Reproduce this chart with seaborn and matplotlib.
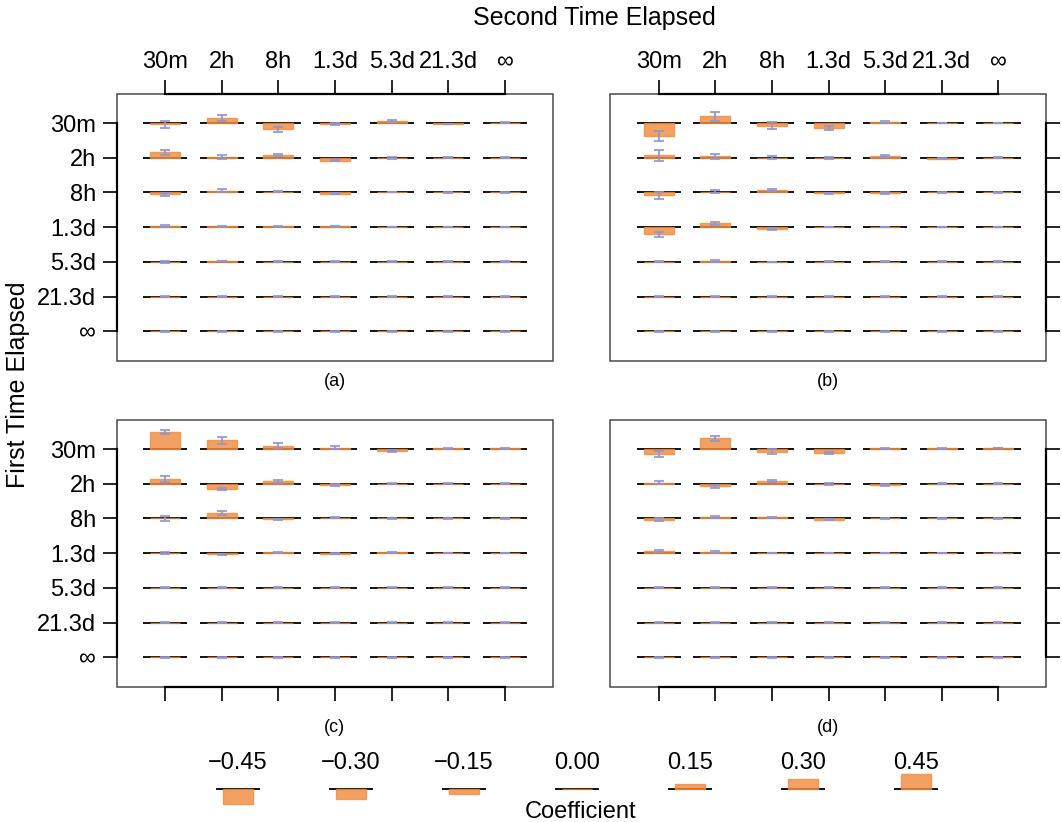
import matplotlib
matplotlib.use("Agg")
import matplotlib.pyplot as plt
import pandas as pd
import seaborn as sns
from matplotlib.patches import Rectangle

# categories (rows = first time elapsed, columns = second time elapsed)
times = ["30m", "2h", "8h", "1.3d", "5.3d", "21.3d", "∞"]
panels = ["(a)", "(b)", "(c)", "(d)"]

zero_row = [0.0, 0.0, 0.0, 0.0, 0.0, 0.0, 0.0]
small_err = [0.01, 0.01, 0.01, 0.01, 0.01, 0.01, 0.01]

coef_a = [
    [-0.04, 0.15, -0.19, -0.03, 0.06, -0.03, 0.01],
    [0.16, 0.03, 0.08, -0.09, -0.01, 0.0, 0.0],
    [-0.06, 0.05, 0.02, -0.04, 0.01, 0.0, 0.0],
    [0.02, 0.02, 0.02, 0.02, 0.0, 0.0, 0.0],
    [-0.01, 0.02, 0.0, 0.0, 0.0, 0.0, 0.0],
    zero_row,
    zero_row,
]
err_a = [
    [0.11, 0.10, 0.07, 0.03, 0.02, 0.01, 0.01],
    [0.08, 0.06, 0.04, 0.02, 0.02, 0.01, 0.01],
    [0.05, 0.04, 0.02, 0.02, 0.01, 0.01, 0.01],
    [0.03, 0.02, 0.02, 0.01, 0.01, 0.01, 0.01],
    [0.02, 0.01, 0.01, 0.01, 0.01, 0.01, 0.01],
    small_err,
    small_err,
]

coef_b = [
    [-0.39, 0.20, -0.08, -0.15, 0.02, 0.0, 0.0],
    [0.07, 0.04, 0.0, 0.0, 0.06, -0.03, 0.0],
    [-0.09, 0.02, 0.07, -0.03, -0.02, 0.0, 0.0],
    [-0.22, 0.11, -0.06, 0.0, 0.0, 0.0, 0.0],
    [0.0, 0.02, -0.01, 0.0, 0.0, 0.0, 0.0],
    zero_row,
    zero_row,
]
err_b = [
    [0.155, 0.145, 0.10, 0.065, 0.03, 0.01, 0.01],
    [0.155, 0.08, 0.04, 0.03, 0.03, 0.02, 0.01],
    [0.10, 0.05, 0.03, 0.02, 0.02, 0.01, 0.01],
    [0.07, 0.04, 0.03, 0.01, 0.01, 0.01, 0.01],
    [0.02, 0.02, 0.01, 0.01, 0.01, 0.01, 0.01],
    small_err,
    small_err,
]

coef_c = [
    [0.51, 0.27, 0.10, 0.04, -0.05, 0.02, 0.02],
    [0.15, -0.16, 0.07, -0.04, 0.0, 0.0, 0.0],
    [0.0, 0.16, -0.03, 0.02, 0.0, 0.0, 0.0],
    [0.0, -0.04, 0.02, -0.02, 0.02, 0.0, 0.0],
    zero_row,
    zero_row,
    zero_row,
]
err_c = [
    [0.055, 0.105, 0.08, 0.04, 0.03, 0.01, 0.01],
    [0.085, 0.03, 0.04, 0.02, 0.02, 0.01, 0.01],
    [0.085, 0.055, 0.02, 0.02, 0.01, 0.01, 0.01],
    [0.03, 0.02, 0.02, 0.01, 0.01, 0.01, 0.01],
    small_err,
    small_err,
    small_err,
]

coef_d = [
    [-0.15, 0.32, -0.08, -0.11, 0.02, 0.02, 0.03],
    [0.03, -0.08, 0.08, 0.0, -0.04, 0.0, 0.0],
    [-0.04, 0.05, 0.03, -0.04, 0.0, 0.0, 0.0],
    [0.05, 0.03, 0.0, 0.0, 0.0, 0.0, 0.0],
    zero_row,
    zero_row,
    zero_row,
]
err_d = [
    [0.08, 0.08, 0.07, 0.03, 0.02, 0.01, 0.01],
    [0.05, 0.04, 0.03, 0.03, 0.02, 0.01, 0.01],
    [0.04, 0.03, 0.02, 0.02, 0.01, 0.01, 0.01],
    [0.03, 0.02, 0.01, 0.01, 0.01, 0.01, 0.01],
    small_err,
    small_err,
    small_err,
]

legend_values = [-0.45, -0.30, -0.15, 0.00, 0.15, 0.30, 0.45]
legend_labels = ["−0.45", "−0.30", "−0.15", "0.00", "0.15", "0.30", "0.45"]

BAR_COLOR = "#F08A3C"
ERR_COLOR = "#8E97CF"
SCALE = 0.96  # bar height (in row units) per unit of coefficient


def _to_long(panel, coef, err):
    """Flatten one 7x7 panel into long format."""
    rows = []
    for i, first in enumerate(times):
        for j, second in enumerate(times):
            rows.append({"panel": panel, "first": first, "second": second,
                         "coef": coef[i][j], "err": err[i][j]})
    return pd.DataFrame(rows)


def _draw_cells(data, **kws):
    ax = plt.gca()
    x = data["x"]
    y = data["y"]
    ax.hlines(y, x - 0.39, x + 0.39, color="black", lw=1.3, zorder=1)
    ax.bar(x, data["coef"] * SCALE, width=0.53, bottom=y, color=BAR_COLOR,
           edgecolor=BAR_COLOR, lw=1, alpha=0.8, zorder=2)
    ax.errorbar(x, y + data["coef"] * SCALE, yerr=data["err"] * SCALE,
                fmt="none", ecolor=ERR_COLOR, elinewidth=1.5, capsize=3.8,
                capthick=1.5, alpha=0.85, zorder=3)


df = pd.concat(
    [_to_long(p, c, e) for p, c, e in zip(
        panels, [coef_a, coef_b, coef_c, coef_d],
        [err_a, err_b, err_c, err_d])],
    ignore_index=True,
)
df["x"] = df["second"].map({t: k for k, t in enumerate(times)})
df["y"] = df["first"].map({t: len(times) - 1 - k for k, t in enumerate(times)})

sns.set_theme(style="white")
plt.rcParams["font.family"] = ["Liberation Sans", "DejaVu Sans"]
plt.rcParams["text.color"] = "black"
plt.rcParams["xtick.color"] = "black"
plt.rcParams["ytick.color"] = "black"
plt.rcParams["axes.labelcolor"] = "black"

g = sns.FacetGrid(df, col="panel", col_wrap=2, height=3, aspect=1.6,
                  sharex=False, sharey=False, despine=False)
g.map_dataframe(_draw_cells)

fig = g.figure
fig.set_size_inches(10.62, 8.22)
W, H = 1062.0, 822.0
fig.subplots_adjust(left=117 / W, right=1046 / W, top=1 - 94 / H,
                    bottom=1 - 687 / H, wspace=58 / 436, hspace=59 / 267)

positions = list(range(len(times)))
ylabels = times[::-1]
for k, ax in enumerate(g.axes.flat):
    ax.set_title("")
    ax.set_xlabel("")
    ax.set_ylabel("")
    ax.set_xlim(-0.85, 6.84)
    ax.set_ylim(-0.86, 6.84)
    ax.set_xticks(positions)
    ax.set_yticks(positions)
    ax.set_yticklabels(ylabels)
    ax.set_xticklabels(times)
    top_row = k < 2
    left_col = k % 2 == 0
    ax.tick_params(axis="x", direction="out", length=10, width=1.2,
                   color="black", labelcolor="black", top=top_row,
                   bottom=not top_row, labeltop=top_row, labelbottom=False,
                   labelsize=17, pad=5)
    ax.tick_params(axis="y", direction="out", length=10, width=1.2,
                   color="black", labelcolor="black", left=left_col,
                   right=not left_col, labelleft=left_col, labelright=False,
                   labelsize=17, pad=5)
    for side in ["top", "bottom", "left", "right"]:
        ax.spines[side].set_visible(False)
    for side in ["top" if top_row else "bottom", "left" if left_col else "right"]:
        ax.spines[side].set_visible(True)
        ax.spines[side].set_bounds(0, 6)
        ax.spines[side].set_color("black")
        ax.spines[side].set_linewidth(1.6)
    ax.add_patch(Rectangle((0, 0), 1, 1, transform=ax.transAxes, fill=False,
                           edgecolor="#4a4a4a", lw=1.1, clip_on=False))
    ax.text(0.5, -0.075 if top_row else -0.15, panels[k],
            transform=ax.transAxes, ha="center", va="center", fontsize=13,
            color="black")

fig.text(594 / W, 1 - 18 / H, "Second Time Elapsed", ha="center",
         va="center", fontsize=18, color="black")
fig.text(18 / W, 1 - 385 / H, "First Time Elapsed", ha="center",
         va="center", rotation=90, fontsize=18, color="black")

# coefficient key
lax = fig.add_axes([181.5 / W, 1 - 810 / H, 791 / W, 70 / H])
lax.set_xlim(-0.5, 6.5)
lax.set_ylim(-0.605, 1.412)
lax.axis("off")
lx = list(range(len(legend_values)))
lax.hlines([0] * len(lx), [v - 0.195 for v in lx], [v + 0.195 for v in lx],
           color="black", lw=1.3, zorder=1)
lax.bar(lx, [v * SCALE for v in legend_values], width=0.265, color=BAR_COLOR,
        edgecolor=BAR_COLOR, lw=1, alpha=0.8, zorder=2)
for xi, lab in zip(lx, legend_labels):
    lax.text(xi, 0.75, lab, ha="center", va="center", fontsize=17,
             color="black")
fig.text(581 / W, 1 - 812 / H, "Coefficient", ha="center", va="center",
         fontsize=17, color="black")

fig.savefig("out.png", dpi=100)
